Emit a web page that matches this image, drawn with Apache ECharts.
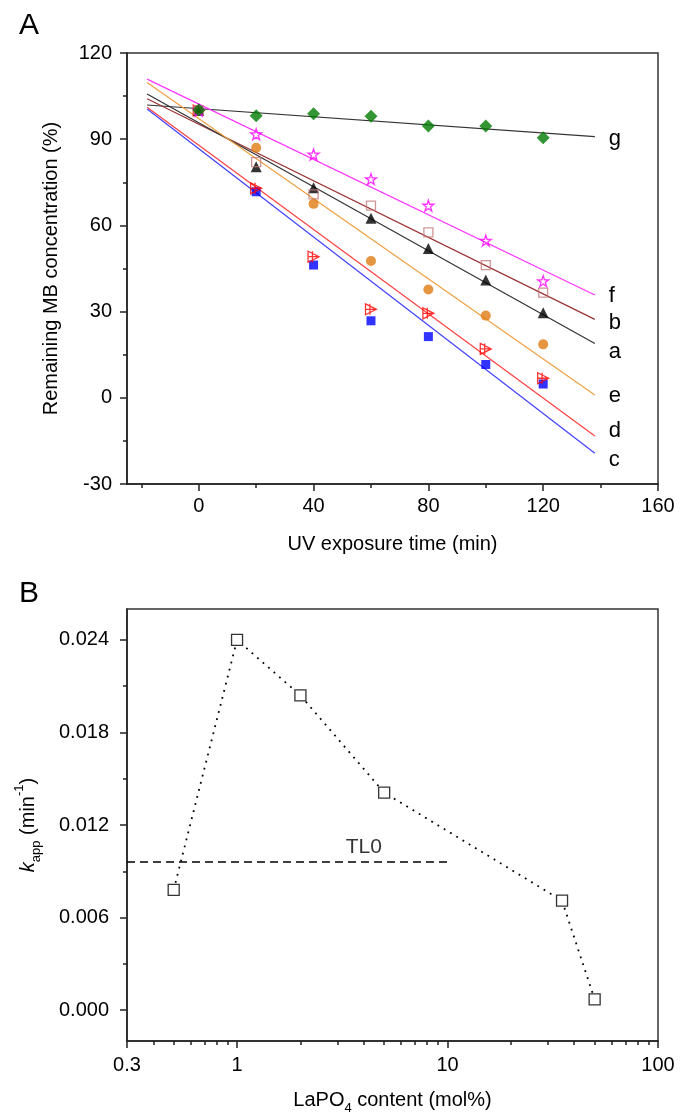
<!DOCTYPE html>
<html>
<head>
<meta charset="utf-8">
<title>MB degradation and kapp vs LaPO4 content</title>
<script src="https://cdn.jsdelivr.net/npm/echarts@6/dist/echarts.min.js"></script>
<style>
  html, body { margin: 0; padding: 0; background: #fff; }
  #main { width: 688px; height: 1112px; }
</style>
</head>
<body>
<div id="main"></div>
<script>
// ---- panel A data (remaining MB, %) ----
var timeMin = [0, 20, 40, 60, 80, 100, 120];
var seriesG = [100.2, 98.2, 98.9, 98.0, 94.6, 94.6, 90.5];
var seriesF = [100.0, 91.7, 84.7, 76.1, 66.9, 54.7, 40.6];
var seriesB = [100.0, 82.0, 70.8, 66.9, 57.6, 46.2, 36.6];
var seriesA = [100.0, 80.4, 73.1, 62.5, 52.0, 41.0, 29.6];
var seriesE = [100.0, 87.0, 67.5, 47.6, 37.7, 28.6, 18.6];
var seriesD = [100.0, 72.9, 49.1, 30.8, 29.4, 17.0, 6.8];
var seriesC = [100.0, 71.7, 46.2, 26.8, 21.3, 11.6, 4.8];

// fitted lines, value at start and end of fitX
var fitX = [-18, 138];
var fitG = [101.9, 90.9];
var fitF = [110.9, 35.8];
var fitB = [104.1, 27.3];
var fitA = [105.7, 18.9];
var fitE = [109.7, 1.0];
var fitD = [101.1, -13.3];
var fitC = [100.5, -19.3];

var xTicksA = [0, 40, 80, 120, 160];
var xMinorA = [-20, 20, 60, 100, 140];

// ---- panel B data ----
var lapoContent = [0.5, 1, 2, 5, 35, 50];
var kApp = [0.0078, 0.0240, 0.0204, 0.0141, 0.0071, 0.0007];
var tl0Value = 0.0096;
var tl0Range = [0.3, 10];
var tl0LabelAt = 4;

var xTicksB = [0.3, 1, 10, 100];
var xMinorB = [0.4, 0.5, 0.6, 0.7, 0.8, 0.9, 2, 3, 4, 5, 6, 7, 8, 9, 20, 30, 40, 50, 60, 70, 80, 90];
var yTicksB = [0, 0.006, 0.012, 0.018, 0.024];
var yMinorB = [0.003, 0.009, 0.015, 0.021];

var FONT = '"Liberation Sans", Arial, sans-serif';
var AX = '#222';

var myChart = echarts.init(document.getElementById('main'));

function pts(ys) {
    return timeMin.map(function (t, i) { return [t, ys[i]]; });
}
function fit(ys) {
    return [[fitX[0], ys[0]], [fitX[1], ys[1]]];
}

var STAR = 'path://M50,2 L61,36 L97,36 L68,57 L79,92 L50,71 L21,92 L32,57 L3,36 L39,36 Z';
var TRI_CROSS = 'path://M0,0 L10,5 L0,10 Z M0,5 L10,5 M4,0 L4,10';

// name, values, fit, line colour, marker, marker colour, filled, size, label nudge
var curves = [
    ['g', seriesG, fitG, '#333333', 'diamond', '#007a00', true, 13, 2],
    ['f', seriesF, fitF, '#ff33ff', STAR, '#ff00ff', false, 11, 1],
    ['b', seriesB, fitB, '#993333', 'rect', '#c47a7a', false, 9, 4],
    ['a', seriesA, fitA, '#333333', 'triangle', '#000000', true, 11, 8],
    ['e', seriesE, fitE, '#f0a040', 'circle', '#e07a10', true, 10, 1],
    ['d', seriesD, fitD, '#ff4040', TRI_CROSS, '#ff0000', false, 11, -5],
    ['c', seriesC, fitC, '#4040ff', 'rect', '#0000ff', true, 9, 7]
];

var series = [];
curves.forEach(function (c) {
    series.push({
        type: 'line',
        xAxisIndex: 0, yAxisIndex: 0,
        data: fit(c[2]),
        showSymbol: false,
        silent: true,
        lineStyle: { color: c[3], width: 1.2 },
        endLabel: {
            show: true,
            formatter: c[0],
            color: '#000',
            fontFamily: FONT,
            fontSize: 22,
            distance: 14,
            offset: [0, c[8]]
        },
        z: 2
    });
});
curves.slice().reverse().forEach(function (c) {
    series.push({
        type: 'scatter',
        xAxisIndex: 0, yAxisIndex: 0,
        data: pts(c[1]),
        symbol: c[4],
        symbolSize: c[7],
        itemStyle: c[6]
            ? { color: c[5] }
            : { color: 'transparent', borderColor: c[5], borderWidth: 1.3 },
        z: 3
    });
});

// panel B
series.push({
    type: 'line',
    xAxisIndex: 2, yAxisIndex: 1,
    data: [[tl0Range[0], tl0Value], [tl0Range[1], tl0Value]],
    showSymbol: false,
    lineStyle: { color: '#000', width: 1.6, type: [8, 5] }
});
series.push({
    type: 'scatter',
    xAxisIndex: 2, yAxisIndex: 1,
    data: [[tl0LabelAt, tl0Value]],
    symbolSize: 0,
    label: {
        show: true, position: 'top', distance: 4,
        formatter: 'TL0', color: '#000', fontFamily: FONT, fontSize: 21
    }
});
series.push({
    type: 'line',
    xAxisIndex: 2, yAxisIndex: 1,
    data: lapoContent.map(function (x, i) { return [x, kApp[i]]; }),
    symbol: 'rect',
    symbolSize: 11,
    showAllSymbol: true,
    itemStyle: { color: '#fff', borderColor: '#333', borderWidth: 1.3 },
    lineStyle: { color: '#000', width: 1.8, type: [1.8, 5.5] },
    z: 3
});

var labelStyle = { color: '#000', fontFamily: FONT, fontSize: 20 };
var nameStyle = { color: '#000', fontFamily: FONT, fontSize: 20 };

myChart.setOption({
    animation: false,
    backgroundColor: '#fff',
    title: [
        { text: 'A', left: 14, top: 6, textStyle: { fontFamily: FONT, fontSize: 30, fontWeight: 'normal', color: '#000' } },
        { text: 'B', left: 14, top: 574, textStyle: { fontFamily: FONT, fontSize: 30, fontWeight: 'normal', color: '#000' } }
    ],
    grid: [
        { left: 127, top: 53, width: 531, height: 431, outerBoundsMode: 'none', containLabel: false, show: true, borderColor: '#333', borderWidth: 1.5, backgroundColor: 'transparent' },
        { left: 127, top: 609, width: 531, height: 432, outerBoundsMode: 'none', containLabel: false, show: true, borderColor: '#333', borderWidth: 1.5, backgroundColor: 'transparent' }
    ],
    xAxis: [
        {
            gridIndex: 0, type: 'value', min: -25, max: 160,
            name: 'UV exposure time (min)', nameLocation: 'middle', nameGap: 50,
            nameTextStyle: nameStyle,
            axisLine: { onZero: false, lineStyle: { color: AX, width: 1.5 } },
            axisTick: { customValues: xTicksA, length: 7, lineStyle: { color: AX, width: 1.5 } },
            axisLabel: Object.assign({ customValues: xTicksA, margin: 12 }, labelStyle),
            splitLine: { show: false }
        },
        {
            gridIndex: 0, type: 'value', min: -25, max: 160, position: 'bottom',
            axisLine: { show: false, onZero: false },
            axisTick: { customValues: xMinorA, length: 4, lineStyle: { color: AX, width: 1.5 } },
            axisLabel: { show: false },
            splitLine: { show: false }
        },
        {
            gridIndex: 1, type: 'log', logBase: 10, min: 0.3, max: 100,
            name: '{t|LaPO}{sub|4}{t| content (mol%)}', nameLocation: 'middle', nameGap: 44,
            nameTextStyle: {
                rich: {
                    t: { fontFamily: FONT, fontSize: 20, color: '#000', lineHeight: 30, verticalAlign: 'middle' },
                    sub: { fontFamily: FONT, fontSize: 13, color: '#000', lineHeight: 30, verticalAlign: 'bottom' }
                }
            },
            axisLine: { onZero: false, lineStyle: { color: AX, width: 1.5 } },
            axisTick: { customValues: xTicksB, length: 7, lineStyle: { color: AX, width: 1.5 } },
            axisLabel: Object.assign({ customValues: xTicksB, margin: 14, formatter: function (v) { return String(Math.round(v * 10) / 10); } }, labelStyle),
            splitLine: { show: false },
            minorTick: { show: false }
        },
        {
            gridIndex: 1, type: 'log', logBase: 10, min: 0.3, max: 100, position: 'bottom',
            axisLine: { show: false, onZero: false },
            axisTick: { customValues: xMinorB, length: 4, lineStyle: { color: AX, width: 1.5 } },
            axisLabel: { show: false },
            splitLine: { show: false }
        }
    ],
    yAxis: [
        {
            gridIndex: 0, type: 'value', min: -30, max: 120, interval: 30,
            name: 'Remaining MB concentration (%)', nameLocation: 'middle', nameGap: 66,
            nameTextStyle: nameStyle,
            axisLine: { show: true, onZero: false, lineStyle: { color: AX, width: 1.5 } },
            axisTick: { show: true, length: 7, lineStyle: { color: AX, width: 1.5 } },
            minorTick: { show: true, splitNumber: 2, length: 4, lineStyle: { color: AX, width: 1.5 } },
            axisLabel: Object.assign({ margin: 15 }, labelStyle),
            splitLine: { show: false }
        },
        {
            gridIndex: 1, type: 'value', min: -0.002, max: 0.026,
            name: '{k|k}{sub|app}{t| (min}{sup|-1}{t|)}', nameLocation: 'middle', nameGap: 84,
            nameTextStyle: {
                rich: {
                    k: { fontFamily: FONT, fontSize: 20, fontStyle: 'italic', color: '#000', lineHeight: 30, verticalAlign: 'middle' },
                    t: { fontFamily: FONT, fontSize: 20, color: '#000', lineHeight: 30, verticalAlign: 'middle' },
                    sub: { fontFamily: FONT, fontSize: 13, color: '#000', lineHeight: 30, verticalAlign: 'bottom' },
                    sup: { fontFamily: FONT, fontSize: 13, color: '#000', lineHeight: 30, verticalAlign: 'top' }
                }
            },
            axisLine: { show: true, onZero: false, lineStyle: { color: AX, width: 1.5 } },
            axisTick: { show: true, customValues: yTicksB, length: 7, lineStyle: { color: AX, width: 1.5 } },
            axisLabel: Object.assign({ customValues: yTicksB, margin: 18, formatter: function (v) { return v.toFixed(3); } }, labelStyle),
            splitLine: { show: false }
        },
        {
            gridIndex: 1, type: 'value', min: -0.002, max: 0.026, position: 'left',
            axisLine: { show: false, onZero: false },
            axisTick: { show: true, customValues: yMinorB, length: 4, lineStyle: { color: AX, width: 1.5 } },
            axisLabel: { show: false },
            splitLine: { show: false }
        }
    ],
    series: series
});
</script>
</body>
</html>
